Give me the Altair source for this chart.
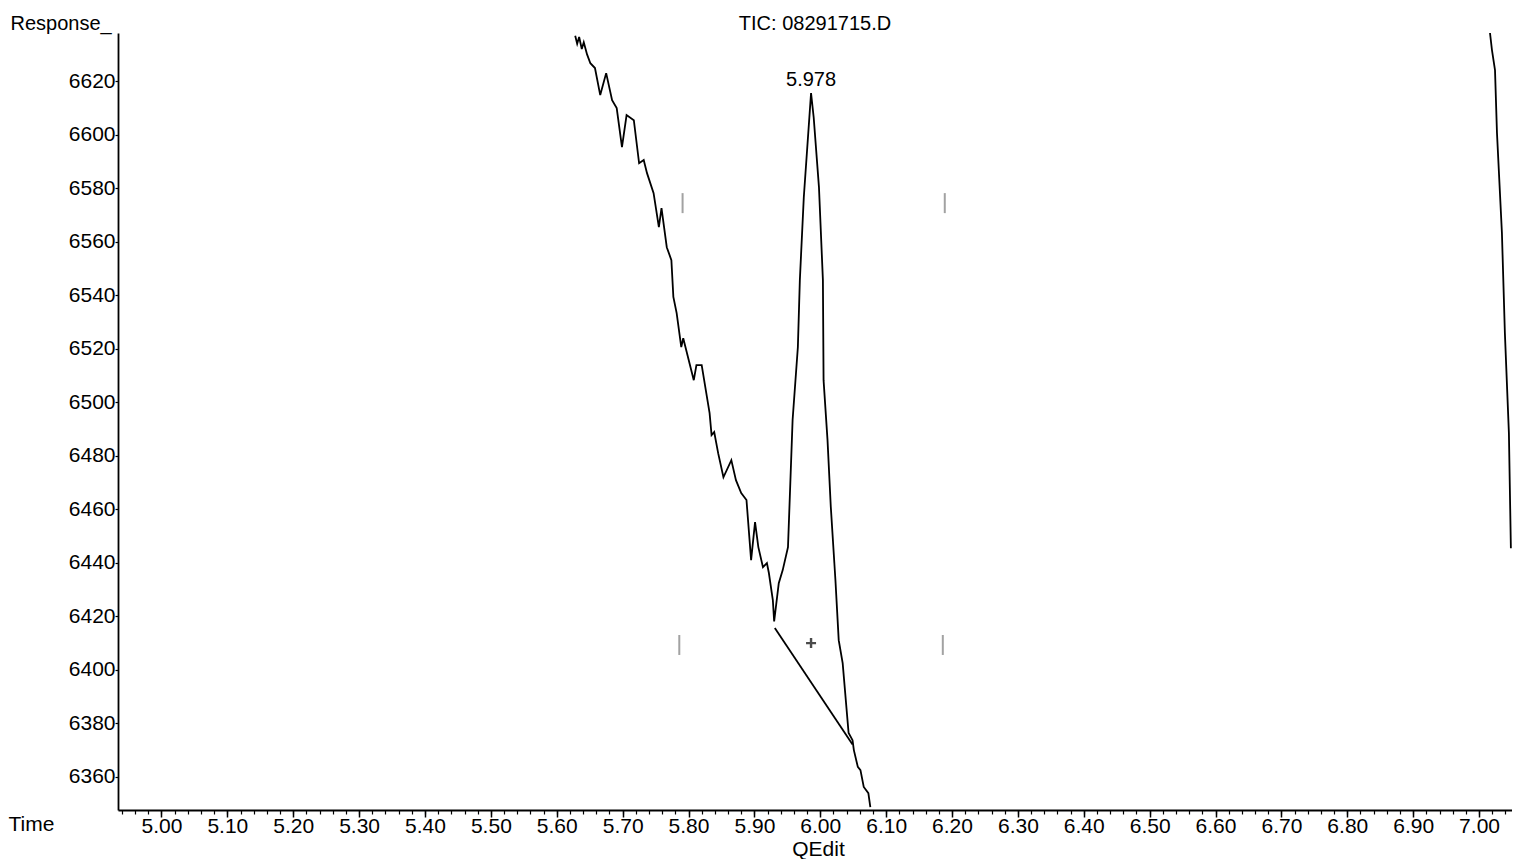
import altair as alt
import pandas as pd

# ---- data ----
trace_t = [5.628, 5.631, 5.634, 5.638, 5.641, 5.646, 5.651, 5.658, 5.666, 5.675, 5.684, 5.691,
           5.699, 5.706, 5.717, 5.725, 5.732, 5.737, 5.747, 5.755, 5.759, 5.767, 5.774, 5.777,
           5.782, 5.789, 5.792, 5.808, 5.812, 5.820, 5.832, 5.835, 5.839, 5.845, 5.853, 5.865,
           5.872, 5.880, 5.888, 5.895, 5.901, 5.906, 5.913, 5.919, 5.922, 5.928, 5.930, 5.937,
           5.943, 5.951, 5.958, 5.966, 5.969, 5.975, 5.986, 5.990, 5.998, 6.004, 6.005, 6.011,
           6.016, 6.023, 6.028, 6.034, 6.043, 6.049, 6.051, 6.057, 6.061, 6.066, 6.073, 6.076]
trace_v = [6637.0, 6634.0, 6636.5, 6632.0, 6634.5, 6630.0, 6626.7, 6624.9, 6614.8, 6623.0, 6612.9, 6609.9,
           6595.3, 6607.3, 6605.4, 6589.3, 6590.5, 6585.6, 6578.1, 6565.4, 6572.5, 6557.9, 6553.1, 6539.3,
           6533.3, 6520.6, 6523.9, 6508.2, 6513.8, 6513.8, 6495.9, 6487.7, 6488.8, 6480.9, 6471.9, 6478.3,
           6470.8, 6466.0, 6463.4, 6440.9, 6455.1, 6445.8, 6438.3, 6439.8, 6436.1, 6426.0, 6418.0, 6432.3,
           6437.2, 6445.8, 6493.3, 6520.6, 6545.6, 6576.6, 6615.5, 6606.5, 6580.4, 6545.6, 6508.2, 6485.8,
           6460.8, 6433.5, 6411.0, 6402.4, 6376.3, 6373.6, 6369.9, 6363.6, 6362.4, 6356.1, 6353.8, 6348.6]

tail_t = [7.0166, 7.0196, 7.0242, 7.0272, 7.0347, 7.0392, 7.0453, 7.0483]
tail_v = [6638.0, 6631.6, 6624.1, 6600.6, 6563.2, 6525.8, 6488.4, 6445.4]

base_t = [5.931, 6.049]
base_v = [6415.5, 6372.0]

marker_t = [5.791, 6.189, 5.786, 6.186]
marker_v = [6574.4, 6574.4, 6409.2, 6409.2]

peak_t = [5.986]
peak_v = [6615.5]
peak_label = ["5.978"]

plus_t = [5.986]
plus_v = [6409.9]

x_major = [5.00, 5.10, 5.20, 5.30, 5.40, 5.50, 5.60, 5.70, 5.80, 5.90, 6.00,
           6.10, 6.20, 6.30, 6.40, 6.50, 6.60, 6.70, 6.80, 6.90, 7.00]
x_minor = [round(4.94 + 0.02 * i, 2) for i in range(106)]
y_ticks = [6360, 6380, 6400, 6420, 6440, 6460, 6480, 6500, 6520, 6540, 6560, 6580, 6600, 6620]

X_DOMAIN = [4.934, 7.05]
Y_DOMAIN = [6347.5, 6638.0]
FONT = "Liberation Sans"

rows = []
for i, (t, v) in enumerate(zip(trace_t, trace_v)):
    rows.append({"t": t, "v": v, "series": "trace", "i": i})
for i, (t, v) in enumerate(zip(tail_t, tail_v)):
    rows.append({"t": t, "v": v, "series": "tail", "i": i})
for i, (t, v) in enumerate(zip(base_t, base_v)):
    rows.append({"t": t, "v": v, "series": "baseline", "i": i})
lines_df = pd.DataFrame(rows)

markers_df = pd.DataFrame({"t": marker_t, "v": marker_v})
peak_df = pd.DataFrame({"t": peak_t, "v": peak_v, "label": peak_label})
plus_df = pd.DataFrame({"t": plus_t, "v": plus_v})

xscale = alt.Scale(domain=X_DOMAIN, nice=False, zero=False)
yscale = alt.Scale(domain=Y_DOMAIN, nice=False, zero=False)

major_axis = alt.Axis(
    orient="bottom", values=x_major, format=".2f", grid=False,
    tickSize=7, tickWidth=1.5, tickColor="black",
    domain=True, domainColor="black", domainWidth=1.8,
    labelFont=FONT, labelFontSize=21, labelColor="black", labelPadding=-2,
    labelFlush=False, labelOverlap=False,
    title="Time", titleFont=FONT, titleFontSize=21, titleFontWeight="normal",
    titleColor="black", titleAlign="left", titleBaseline="alphabetic",
    titleX=-110, titleY=20,
)
minor_axis = alt.Axis(
    orient="bottom", values=x_minor, labels=False, grid=False,
    tickSize=4, tickWidth=1.2, tickColor="black", domain=False,
    title="QEdit", titleFont=FONT, titleFontSize=21, titleFontWeight="normal",
    titleColor="black", titleAlign="center", titleBaseline="alphabetic",
    titleX=700, titleY=45,
)
y_axis = alt.Axis(
    values=y_ticks, format="d", grid=False,
    tickSize=3, tickWidth=1.2, tickColor="black",
    domain=True, domainColor="black", domainWidth=1.8,
    labelFont=FONT, labelFontSize=21, labelColor="black", labelPadding=0,
    labelFlush=False, labelOverlap=False,
    title="Response_", titleFont=FONT, titleFontSize=20, titleFontWeight="normal",
    titleColor="black", titleAngle=0, titleAlign="left", titleBaseline="alphabetic",
    titleX=-108, titleY=-4,
)

lines = alt.Chart(lines_df).mark_line(color="black", strokeWidth=1.8, clip=True).encode(
    x=alt.X("t:Q", scale=xscale, axis=major_axis),
    y=alt.Y("v:Q", scale=yscale, axis=y_axis),
    detail="series:N",
    order="i:Q",
)

markers = alt.Chart(markers_df).mark_tick(orient="vertical", size=20, thickness=2, color="#7a7a7a").encode(
    x=alt.X("t:Q", scale=xscale, axis=minor_axis),
    y=alt.Y("v:Q", scale=yscale),
)

plus = alt.Chart(plus_df).mark_point(
    shape="M-1,0L1,0M0,-1L0,1", size=100, filled=False, color="black", strokeWidth=2.4
).encode(
    x=alt.X("t:Q", scale=xscale, axis=None),
    y=alt.Y("v:Q", scale=yscale),
)

peak = alt.Chart(peak_df).mark_text(
    font=FONT, fontSize=20, color="black", baseline="alphabetic", dy=-7, align="center"
).encode(
    x=alt.X("t:Q", scale=xscale, axis=None),
    y=alt.Y("v:Q", scale=yscale),
    text="label:N",
)

chart = alt.layer(lines, markers, plus, peak).resolve_axis(x="independent").properties(
    width=1394,
    height=777,
    autosize=alt.AutoSizeParams(type="none"),
    padding={"left": 110, "top": 25, "right": 0, "bottom": 49},
    title=alt.TitleParams(
        "TIC: 08291715.D", font=FONT, fontSize=20, fontWeight="normal", color="black",
        anchor="middle", baseline="alphabetic", offset=4, frame="group", dy=41,
    ),
).configure(background="white").configure_view(strokeWidth=0, strokeOpacity=0)

chart.save("out.html", embed_options={"renderer": "svg", "actions": False})
